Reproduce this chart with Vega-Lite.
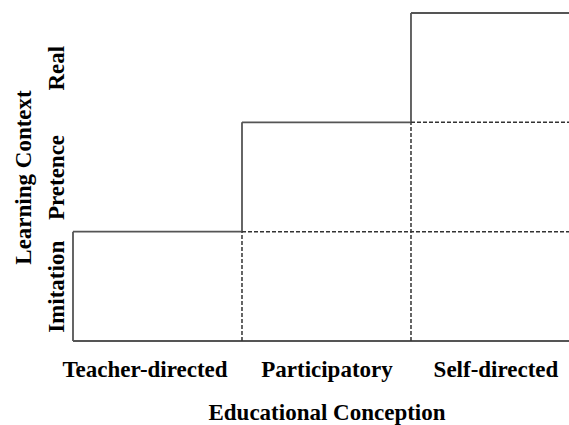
{
  "$schema": "https://vega.github.io/schema/vega-lite/v6.json",
  "width": 496,
  "height": 328,
  "autosize": {"type": "none"},
  "padding": {"left": 73, "top": 13, "right": 0, "bottom": 84},
  "background": "white",
  "config": {
    "view": {"stroke": null},
    "font": "Liberation Serif"
  },
  "data": {
    "values": [
      {"kind": "outline", "x": 0, "x2": 0, "y": 0, "y2": 1},
      {"kind": "outline", "x": 0, "x2": 3, "y": 0, "y2": 0},
      {"kind": "outline", "x": 0, "x2": 1, "y": 1, "y2": 1},
      {"kind": "outline", "x": 1, "x2": 1, "y": 1, "y2": 2},
      {"kind": "outline", "x": 1, "x2": 2, "y": 2, "y2": 2},
      {"kind": "outline", "x": 2, "x2": 2, "y": 2, "y2": 3},
      {"kind": "outline", "x": 2, "x2": 3, "y": 3, "y2": 3},
      {"kind": "inner", "x": 1, "x2": 1, "y": 0, "y2": 1},
      {"kind": "inner", "x": 2, "x2": 2, "y": 0, "y2": 2},
      {"kind": "inner", "x": 1, "x2": 3, "y": 1, "y2": 1},
      {"kind": "inner", "x": 2, "x2": 3, "y": 2, "y2": 2}
    ]
  },
  "encoding": {
    "x": {
      "field": "x",
      "type": "quantitative",
      "scale": {"domain": [0, 2.935], "nice": false, "zero": false},
      "axis": {
        "title": "Educational Conception",
        "values": [0.5, 1.5, 2.5],
        "labelExpr": "datum.value < 1 ? 'Teacher-directed' : datum.value < 2 ? 'Participatory' : 'Self-directed'",
        "labelFont": "Liberation Serif",
        "labelFontWeight": "bold",
        "labelFontSize": 23,
        "labelColor": "black",
        "labelBaseline": "alphabetic",
        "labelPadding": 35,
        "labelOffset": {"condition": {"test": "datum.value < 1", "value": -13}, "value": 0},
        "labelFlush": false,
        "labelOverlap": false,
        "ticks": false,
        "tickSize": 0,
        "domain": false,
        "grid": false,
        "titleFont": "Liberation Serif",
        "titleFontWeight": "bold",
        "titleFontSize": 23,
        "titleColor": "black",
        "titleBaseline": "alphabetic",
        "titleAlign": "center",
        "titleX": 253.5,
        "titleY": 78
      }
    },
    "x2": {"field": "x2"},
    "y": {
      "field": "y",
      "type": "quantitative",
      "scale": {"domain": [0, 3], "nice": false, "zero": false},
      "axis": {
        "title": "Learning Context",
        "values": [0.5, 1.5, 2.5],
        "labelExpr": "datum.value < 1 ? 'Imitation' : datum.value < 2 ? 'Pretence' : 'Real'",
        "labelFont": "Liberation Serif",
        "labelFontWeight": "bold",
        "labelFontSize": 23,
        "labelColor": "black",
        "labelAngle": -90,
        "labelAlign": "center",
        "labelBaseline": "alphabetic",
        "labelPadding": 10,
        "labelFlush": false,
        "labelOverlap": false,
        "ticks": false,
        "tickSize": 0,
        "domain": false,
        "grid": false,
        "titleFont": "Liberation Serif",
        "titleFontWeight": "bold",
        "titleFontSize": 23,
        "titleColor": "black",
        "titleAngle": -90,
        "titleBaseline": "alphabetic",
        "titleAlign": "center",
        "titleX": -43,
        "titleY": 164
      }
    },
    "y2": {"field": "y2"}
  },
  "layer": [
    {
      "transform": [{"filter": "datum.kind == 'outline'"}],
      "mark": {"type": "rule", "color": "#555555", "strokeWidth": 1.8}
    },
    {
      "transform": [{"filter": "datum.kind == 'inner'"}],
      "mark": {"type": "rule", "color": "#333333", "strokeWidth": 1.5, "strokeDash": [4, 2]}
    }
  ]
}
